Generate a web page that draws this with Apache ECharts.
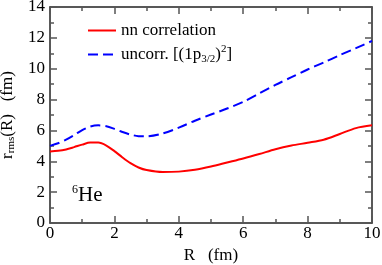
<!DOCTYPE html>
<html>
<head>
<meta charset="utf-8">
<script src="https://cdn.jsdelivr.net/npm/echarts@6/dist/echarts.min.js"></script>
<style>
html,body{margin:0;padding:0;background:#fff;}
#chart{width:382px;height:265px;}
</style>
</head>
<body>
<div id="chart"></div>
<script>
// ---- data ----
const R = [0, 0.25, 0.5, 0.75, 1, 1.25, 1.5, 1.75, 2, 2.25, 2.5, 2.75, 3, 3.5, 4, 4.5, 5, 5.5, 6, 6.5, 7, 7.5, 8, 8.5, 9, 9.5, 10];
const nnCorr = [4.64, 4.68, 4.77, 4.92, 5.08, 5.21, 5.21, 5.02, 4.66, 4.25, 3.88, 3.60, 3.43, 3.30, 3.33, 3.45, 3.66, 3.92, 4.18, 4.47, 4.78, 5.02, 5.20, 5.40, 5.77, 6.15, 6.33];
const uncorr = [5.00, 5.17, 5.40, 5.70, 6.02, 6.25, 6.33, 6.27, 6.10, 5.90, 5.73, 5.63, 5.62, 5.80, 6.18, 6.63, 7.03, 7.42, 7.85, 8.40, 8.95, 9.45, 9.95, 10.40, 10.88, 11.33, 11.80];
const xTicks = [0, 2, 4, 6, 8, 10];
const yTicks = [0, 2, 4, 6, 8, 10, 12, 14];
const seriesNames = ['nn correlation', 'uncorr. [(1p3/2)2]'];

const FONT = 'Liberation Serif';
const pairs = (xs, ys) => xs.map((x, i) => [x, ys[i]]);

const chart = echarts.init(document.getElementById('chart'), null, {renderer: 'canvas'});

const axisCommon = {
  axisLine: {show: true, onZero: false, lineStyle: {color: '#222', width: 1.5}},
  axisTick: {show: true, inside: true, length: 7, lineStyle: {color: '#555', width: 1.5}},
  minorTick: {show: true, splitNumber: 2, length: 4, lineStyle: {color: '#555', width: 1.5}},
  splitLine: {show: false},
  minorSplitLine: {show: false}
};

const option = {
  backgroundColor: '#fff',
  animation: false,
  textStyle: {fontFamily: FONT, color: '#000'},
  grid: {left: 50, right: 10, top: 7, bottom: 42, containLabel: false, outerBoundsMode: 'none'},
  legend: {
    show: true,
    left: 82,
    top: 17,
    orient: 'vertical',
    itemWidth: 28,
    itemHeight: 14,
    itemGap: 5,
    data: seriesNames,
    itemStyle: {opacity: 0},
    textStyle: {fontFamily: FONT, fontSize: 17, color: '#000',
      rich: {
        t: {fontFamily: FONT, fontSize: 17, color: '#000'},
        sub: {fontFamily: FONT, fontSize: 11, color: '#000', padding: [9, 0, 0, 0]},
        sup: {fontFamily: FONT, fontSize: 11, color: '#000', padding: [0, 0, 10, 0]}
      }
    },
    formatter: function (name) {
      if (name === seriesNames[1]) {
        return '{t|uncorr. [(1p}{sub|3/2}{t|)}{sup|2}{t|]}';
      }
      return '{t|' + name + '}';
    }
  },
  xAxis: [
    Object.assign({}, axisCommon, {
      type: 'value', min: 0, max: 10, interval: 2, position: 'bottom',
      name: 'R   (fm)', nameLocation: 'middle', nameGap: 22,
      nameTextStyle: {fontFamily: FONT, fontSize: 17, color: '#000'},
      axisLabel: {show: true, margin: 2, fontFamily: FONT, fontSize: 17, color: '#000',
        formatter: v => (xTicks.indexOf(v) >= 0 ? String(v) : '')}
    }),
    Object.assign({}, axisCommon, {
      type: 'value', min: 0, max: 10, interval: 2, position: 'top',
      axisLabel: {show: false}
    })
  ],
  yAxis: [
    Object.assign({}, axisCommon, {
      type: 'value', min: 0, max: 14, interval: 2, position: 'left',
      name: '{t|r}{sub|rms}{t|(R)   (fm)}', nameLocation: 'middle', nameGap: 29, nameRotate: 90,
      nameTextStyle: {fontFamily: FONT, fontSize: 17, color: '#000',
        rich: {
          t: {fontFamily: FONT, fontSize: 17, color: '#000'},
          sub: {fontFamily: FONT, fontSize: 11, color: '#000', padding: [9, 0, 0, 0]}
        }
      },
      axisLabel: {show: true, margin: 5, fontFamily: FONT, fontSize: 17, color: '#000',
        formatter: v => (yTicks.indexOf(v) >= 0 ? String(v) : '')}
    }),
    Object.assign({}, axisCommon, {
      type: 'value', min: 0, max: 14, interval: 2, position: 'right',
      axisLabel: {show: false}
    })
  ],
  graphic: [{
    type: 'text',
    left: 72,
    top: 184,
    style: {
      text: '{sup|6}{t|He}',
      rich: {
        t: {fontFamily: FONT, fontSize: 21, fill: '#000'},
        sup: {fontFamily: FONT, fontSize: 12, fill: '#000', padding: [0, 0, 10, 0]}
      }
    }
  }],
  series: [
    {
      name: seriesNames[0], type: 'line', xAxisIndex: 0, yAxisIndex: 0,
      data: pairs(R, nnCorr), smooth: 0.3, symbol: 'none',
      lineStyle: {color: '#ff0000', width: 2},
      itemStyle: {color: '#ff0000'}
    },
    {
      name: seriesNames[1], type: 'line', xAxisIndex: 0, yAxisIndex: 0,
      data: pairs(R, uncorr), smooth: 0.3, symbol: 'none',
      lineStyle: {color: '#0000ff', width: 2, type: [10, 5]},
      itemStyle: {color: '#0000ff'}
    }
  ]
};
chart.setOption(option);
</script>
</body>
</html>
